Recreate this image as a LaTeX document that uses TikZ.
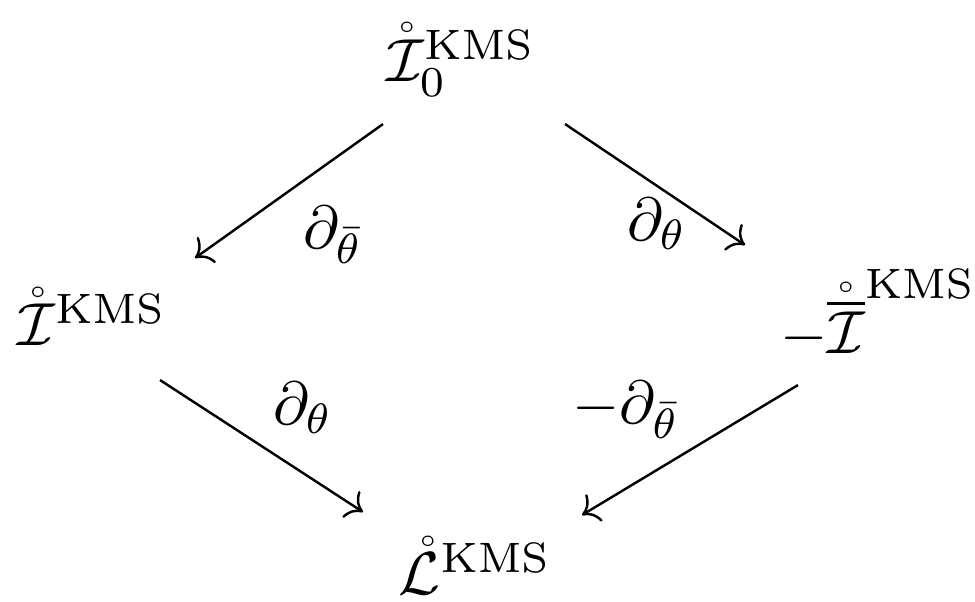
\documentclass[tikz,border=0pt]{standalone}
\usepackage{amsmath,amssymb}
\usepackage{tikz}
\usetikzlibrary{arrows.meta}
\newcommand{\kms}{\ensuremath{\mathrm{KMS}}}
\newcommand{\Ir}{\ensuremath{\mathring{\mathcal{I}}}}

\begin{document}
\begin{tikzpicture}[x=0.00578cm, y=-0.00578cm, >=To]
  \tikzset{obj/.style={inner sep=3pt}, map/.style={->}}
  \useasboundingbox (0,0) rectangle (975,601);
  \node[obj] (top) at (461,60) {$\Ir_0^{\kms}$};
  \node[obj] (left) at (92,317) {$\Ir^{\kms}$};
  \node[obj] (right) at (878,314) {$-\mathring{\overline{\mathcal{I}}}^{\kms}$};
  \node[obj] (bot) at (475,566) {$\mathring{\mathcal{L}}^{\kms}$};
  \draw[map] ([shift={(-78,64)}]top.center) -- ([shift={(103,-59)}]left.center);
  \draw[map] ([shift={(104,64)}]top.center) -- ([shift={(-133,-69)}]right.center);
  \draw[map] ([shift={(68,63)}]left.center) -- ([shift={(-112,-54)}]bot.center);
  \draw[map] ([shift={(-80,71)}]right.center) -- ([shift={(107,-51)}]bot.center);
  \node (dtb) at (333,235) {$\partial_{\bar\theta}$};
  \node (dt) at (657,224) {$\partial_{\theta}$};
  \node (dtl) at (303,408) {$\partial_{\theta}$};
  \node (mdtb) at (626,410) {$-\partial_{\bar\theta}$};
\end{tikzpicture}
\end{document}
